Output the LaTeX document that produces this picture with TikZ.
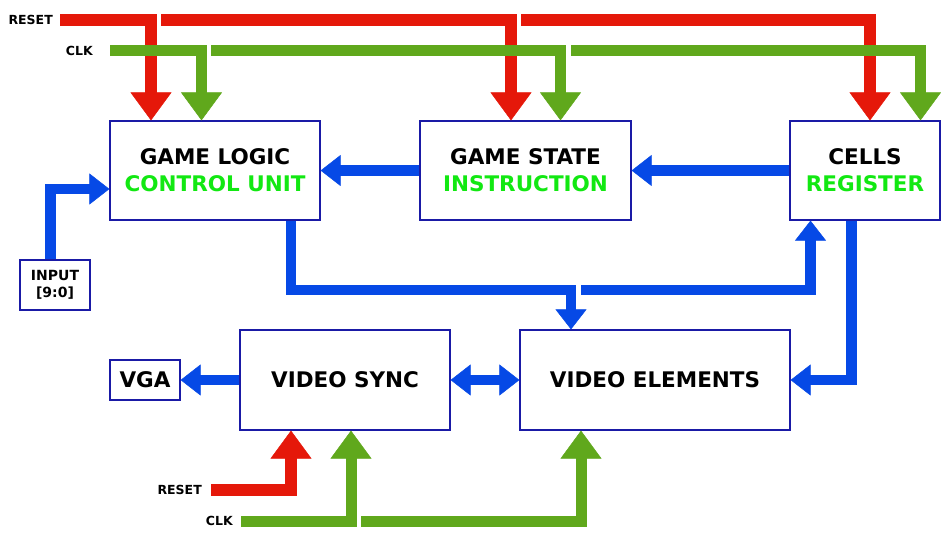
\documentclass[tikz,border=0pt]{standalone}
\usepackage{fontspec}
\setmainfont{DejaVu Sans}
\usepackage{xcolor}
\usepackage{tikz}
\usetikzlibrary{positioning,arrows.meta,calc}

\definecolor{rstred}{HTML}{E5180A}
\definecolor{clkgreen}{HTML}{60A81C}
\definecolor{busblue}{HTML}{0649E6}
\definecolor{boxblue}{HTML}{1A1AA6}
\definecolor{txtgreen}{HTML}{12E812}

\begin{document}
\begin{tikzpicture}[
  x=1pt, y=-1pt,
  font=\bfseries\fontsize{21.5}{27}\selectfont,
  block/.style={draw=boxblue, line width=1.2pt, fill=white, align=center, inner sep=0pt},
  pin/.style={draw=boxblue, line width=1.2pt, align=center, inner sep=0pt},
  sig/.style={inner sep=0pt, font=\bfseries\fontsize{12.5}{15}\selectfont},
  hi/.style={text=txtgreen},
  rst/.style={draw=rstred, line width=12pt, line join=miter, -{Triangle[width=41pt,length=28pt,line width=0.5pt]}},
  clk/.style={draw=clkgreen, line width=11pt, line join=miter, -{Triangle[width=41pt,length=28pt,line width=0.5pt]}},
  bus/.style={draw=busblue, line width=10.5pt, line join=miter, -{Triangle[width=31pt,length=20pt,line width=0.5pt]}},
]
\useasboundingbox (0,0) rectangle (941,541);

% blocks
\node[block, minimum width=210pt, minimum height=99pt] (logic) at (215,170.5) {GAME LOGIC\\\textcolor{txtgreen}{CONTROL UNIT}};
\node[block, minimum width=211pt, minimum height=99pt] (state) at (525.5,170.5) {GAME STATE\\\textcolor{txtgreen}{INSTRUCTION}};
\node[block, minimum width=150pt, minimum height=99pt] (cells) at (865,170.5) {CELLS\\\textcolor{txtgreen}{REGISTER}};
\node[block, minimum width=210pt, minimum height=100pt] (sync) at (345,380) {VIDEO SYNC};
\node[block, minimum width=270pt, minimum height=100pt] (elems) at (655,380) {VIDEO ELEMENTS};
\node[pin, minimum width=70pt, minimum height=40pt] (vga) at (145,380) {VGA};
\node[pin, minimum width=70pt, minimum height=50pt, font=\bfseries\fontsize{14}{17}\selectfont] (input) at (55,285) {INPUT\\{[}9:0{]}};

% signal feeds
\coordinate (rstA) at (60,20);
\coordinate (rstB) at (161,20);
\coordinate (rstC) at (521,20);
\coordinate (clkA) at (110,50.5);
\coordinate (clkB) at (211,50.5);
\coordinate (clkC) at (571,50.5);
\coordinate (rstD) at (211,490);
\coordinate (clkD) at (241,521);
\coordinate (clkE) at (361,521);
\coordinate (busA) at (571,290);
\coordinate (busB) at (581,290);
\node[sig, left=7pt of rstA] (rstT) {RESET};
\node[sig, left=17pt of clkA] (clkT) {CLK};
\node[sig, left=9pt of rstD] (rstL) {RESET};
\node[sig, left=8pt of clkD] (clkL) {CLK};

% reset and clock at the top
\draw[rst] (rstA) -| ([xshift=-64pt]logic.north);
\draw[rst] (rstB) -| ([xshift=-14.5pt]state.north);
\draw[rst] (rstC) -| ([xshift=5pt]cells.north);
\draw[clk] (clkA) -| ([xshift=-13.5pt]logic.north);
\draw[clk] (clkB) -| ([xshift=35pt]state.north);
\draw[clk] (clkC) -| ([xshift=55.5pt]cells.north);

% data paths
\draw[bus] (state.west) -- (logic.east);
\draw[bus] (cells.west) -- (state.east);
\draw[bus] ([xshift=-4.5pt]input.north) |- ([yshift=-18.5pt]logic.west);
\draw[bus] ([xshift=76pt]logic.south) |- (busA) -- ([xshift=-84pt]elems.north);
\draw[bus] (busB) -| ([xshift=-54.5pt]cells.south);
\draw[bus] ([xshift=-13.5pt]cells.south) |- (elems.east);
\draw[bus, {Triangle[width=31pt,length=20pt,line width=0.5pt]}-{Triangle[width=31pt,length=20pt,line width=0.5pt]}] (sync.east) -- (elems.west);
\draw[bus] (sync.west) -- (vga.east);

% reset and clock at the bottom
\draw[rst] (rstD) -| ([xshift=-54pt]sync.south);
\draw[clk] (clkD) -| ([xshift=6pt]sync.south);
\draw[clk] (clkE) -| ([xshift=-74pt]elems.south);
\end{tikzpicture}
\end{document}
